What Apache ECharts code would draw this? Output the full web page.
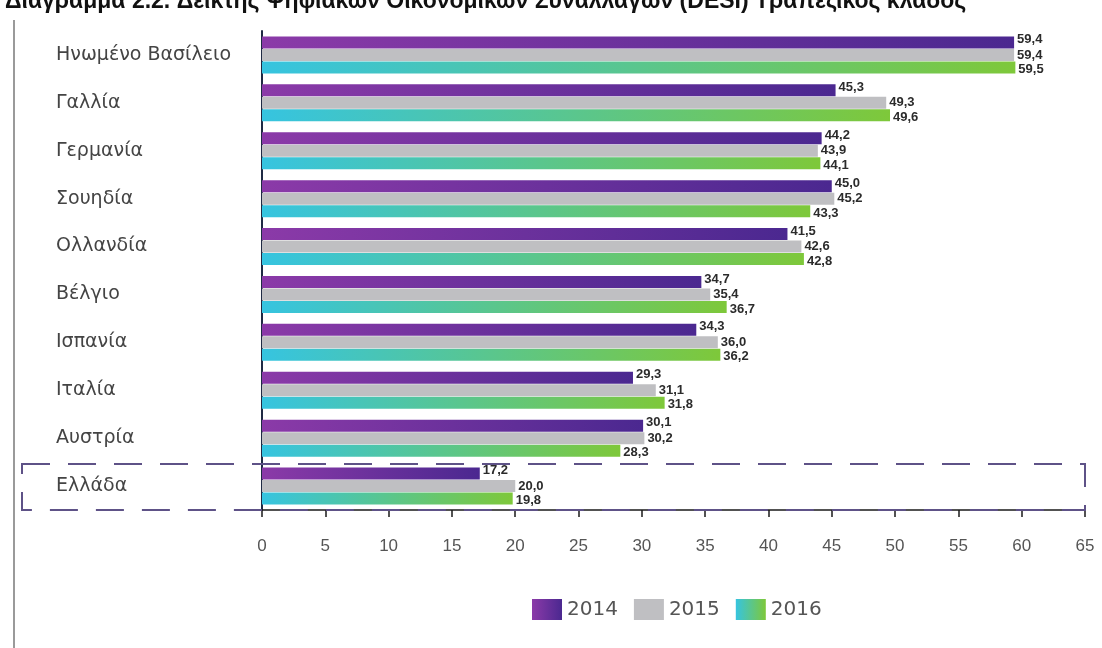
<!DOCTYPE html>
<html>
<head>
<meta charset="utf-8">
<script src="https://cdn.jsdelivr.net/npm/echarts@6/dist/echarts.min.js"></script>
<style>
  html, body { margin: 0; padding: 0; background: #fff; }
  #main { width: 1102px; height: 648px; }
</style>
</head>
<body>
<div id="main"></div>
<script>
var countries = ['Ηνωμένο Βασίλειο', 'Γαλλία', 'Γερμανία', 'Σουηδία', 'Ολλανδία',
                 'Βέλγιο', 'Ισπανία', 'Ιταλία', 'Αυστρία', 'Ελλάδα'];
var years = ['2014', '2015', '2016'];
var v2014 = [59.4, 45.3, 44.2, 45.0, 41.5, 34.7, 34.3, 29.3, 30.1, 17.2];
var v2015 = [59.4, 49.3, 43.9, 45.2, 42.6, 35.4, 36.0, 31.1, 30.2, 20.0];
var v2016 = [59.5, 49.6, 44.1, 43.3, 42.8, 36.7, 36.2, 31.8, 28.3, 19.8];
var highlighted = 'Ελλάδα';

var myChart = echarts.init(document.getElementById('main'));

function grad(c1, c2) {
    return new echarts.graphic.LinearGradient(0, 0, 1, 0, [
        {offset: 0, color: c1},
        {offset: 1, color: c2}
    ]);
}

var colors = [
    grad('#8b3aa8', '#4b2890'),
    '#bfbfc2',
    grad('#36c4e0', '#7ec83a')
];

function labelOf(offsetY) {
    return {
        show: true,
        position: 'right',
        distance: 3,
        offset: [0, offsetY],
        color: '#2b2b2b',
        fontSize: 13,
        fontWeight: 'bold',
        fontFamily: 'Liberation Sans, Arial, sans-serif',
        textBorderColor: '#fff',
        textBorderWidth: 2,
        formatter: function (p) {
            return p.value.toFixed(1).replace('.', ',');
        }
    };
}

var allValues = [v2014, v2015, v2016];
var series = years.map(function (y, i) {
    return {
        name: y,
        type: 'bar',
        data: allValues[i],
        barWidth: 12,
        barGap: '4%',
        itemStyle: {color: colors[i]},
        label: labelOf([-3, 0, 2][i]),
        z: 3 - i
    };
});

option = {
    animation: false,
    title: {
        text: 'Διάγραμμα 2.2. Δείκτης Ψηφιακών Οικονομικών Συναλλαγών (DESI) Τραπεζικός κλάδος',
        left: 0,
        top: -15,
        textStyle: {
            fontSize: 23,
            fontWeight: 'bold',
            color: '#111',
            fontFamily: 'Liberation Sans, Arial, sans-serif'
        }
    },
    grid: {
        left: 262,
        right: 17,
        top: 31,
        bottom: 138,
        containLabel: false
    },
    legend: {
        data: years,
        left: 527,
        top: 594,
        icon: 'rect',
        itemWidth: 30,
        itemHeight: 21,
        itemGap: 16,
        textStyle: {
            fontSize: 20,
            color: '#555',
            fontFamily: 'DejaVu Sans, sans-serif'
        }
    },
    xAxis: {
        type: 'value',
        min: 0,
        max: 65,
        interval: 5,
        axisLine: {show: true, lineStyle: {color: '#1a1a1a', width: 1.5}},
        axisTick: {show: true, length: 7, lineStyle: {color: '#1a1a1a', width: 1.5}},
        splitLine: {show: false},
        axisLabel: {
            margin: 28,
            fontSize: 17,
            color: '#555',
            fontFamily: 'Liberation Sans, Arial, sans-serif'
        }
    },
    yAxis: {
        type: 'category',
        data: countries,
        inverse: true,
        axisLine: {show: true, lineStyle: {color: '#1f2a44', width: 2}},
        axisTick: {show: false},
        axisLabel: {
            align: 'left',
            margin: 206,
            fontSize: 19,
            color: '#444',
            fontFamily: 'DejaVu Sans, sans-serif'
        }
    },
    series: series
};

myChart.setOption(option);

// frame line on the left and dashed box around the highlighted country
var idx = countries.indexOf(highlighted);
var cy = myChart.convertToPixel({yAxisIndex: 0}, idx);
var prev = myChart.convertToPixel({yAxisIndex: 0}, idx - 1);
var band = cy - prev;
var xRight = myChart.convertToPixel({xAxisIndex: 0}, 65);
var boxTop = cy - band / 2 + 2;
var boxBot = cy + band / 2;
myChart.setOption({
    graphic: [
        {
            type: 'line',
            shape: {x1: 14, y1: 20, x2: 14, y2: 648},
            style: {stroke: '#9a9a9a', lineWidth: 2}
        },
        {
            type: 'rect',
            shape: {x: 22, y: boxTop, width: xRight - 22, height: boxBot - boxTop},
            style: {
                fill: 'rgba(0,0,0,0)',
                stroke: '#5e5287',
                lineWidth: 2,
                lineDash: [28, 18]
            },
            z: 100
        }
    ]
});
</script>
</body>
</html>
